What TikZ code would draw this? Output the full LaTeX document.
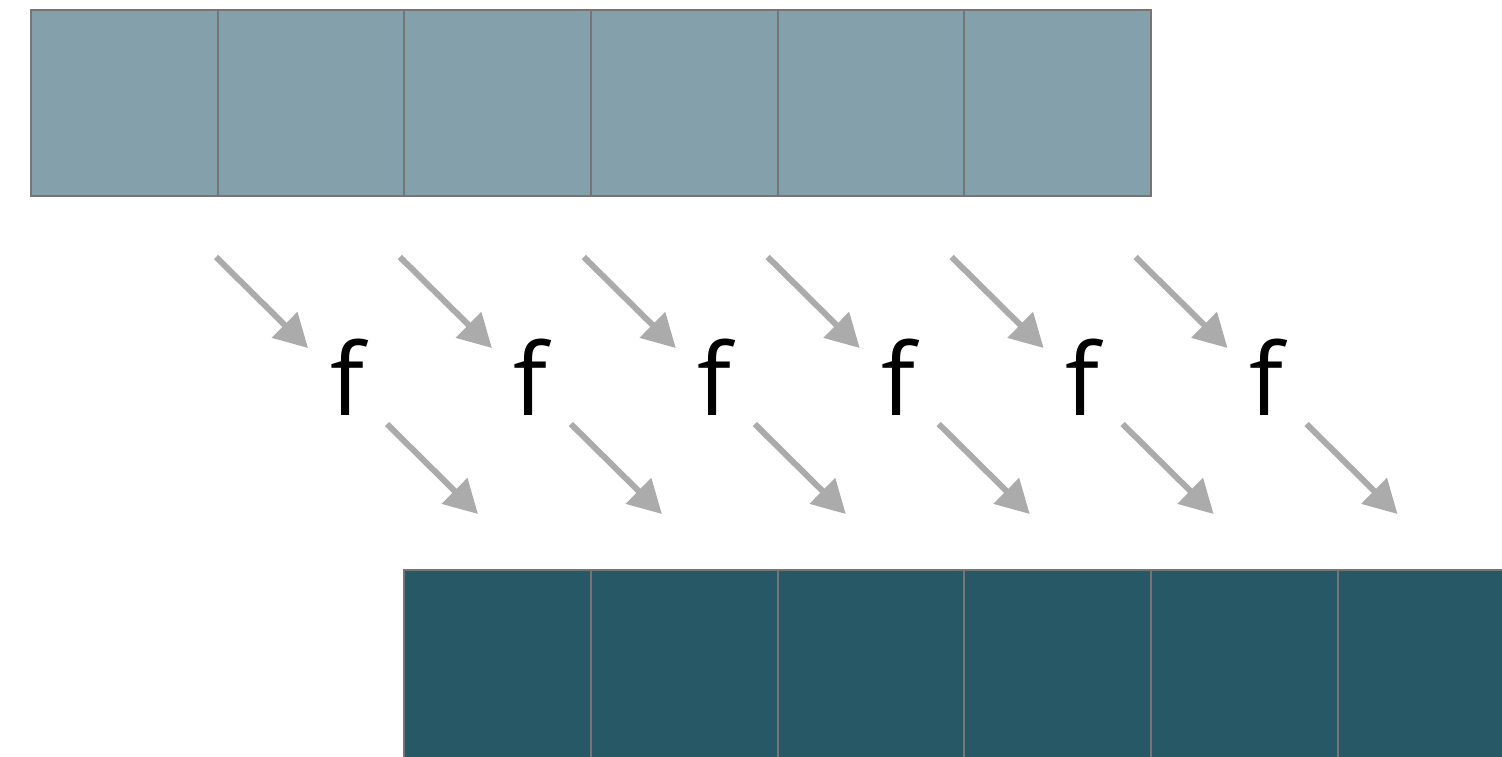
\documentclass[tikz,border=0pt]{standalone}
\usepackage{fontspec}
\setmainfont{Open Sans}
\usetikzlibrary{arrows.meta}
\definecolor{topfill}{HTML}{84A1AB}
\definecolor{botfill}{HTML}{275866}
\definecolor{cellborder}{HTML}{757575}
\definecolor{arrowgray}{HTML}{ABABAB}
\tikzset{
  cell/.style={draw=cellborder, line width=1pt, minimum width=93.33pt, minimum height=93pt, inner sep=0pt, outer sep=0pt, anchor=north west},
  topcell/.style={cell, fill=topfill},
  botcell/.style={cell, fill=botfill, minimum height=95pt},
  flow/.style={draw=arrowgray, line width=3pt, -{Triangle[length=16.5pt,width=17.5pt]}},
  fn/.style={font=\fontsize{50pt}{60pt}\selectfont, inner sep=0pt, anchor=base}
}
\begin{document}
\begin{tikzpicture}[x=0.5pt,y=-0.5pt]
\useasboundingbox (0,0) rectangle (1502,756);
\clip (0,0) rectangle (1502,756);
\foreach \i in {0,...,5} {
  \node[topcell] (t\i) at ({31+\i*186.67},10) {};
}
\foreach \i in {0,...,6} {
  \node[botcell] (b\i) at ({404.3+\i*186.67},570) {};
}
\foreach \i in {0,...,5} {
  \coordinate (a\i) at ({216+\i*183.9},257);
  \coordinate (p\i) at ({308+\i*183.9},348);
  \node[fn] (f\i) at ({347+\i*183.9},415) {f};
  \coordinate (c\i) at ({387+\i*183.9},424);
  \coordinate (d\i) at ({478+\i*183.9},514);
  \draw[flow] (a\i) -- (p\i);
  \draw[flow] (c\i) -- (d\i);
}
\end{tikzpicture}
\end{document}
